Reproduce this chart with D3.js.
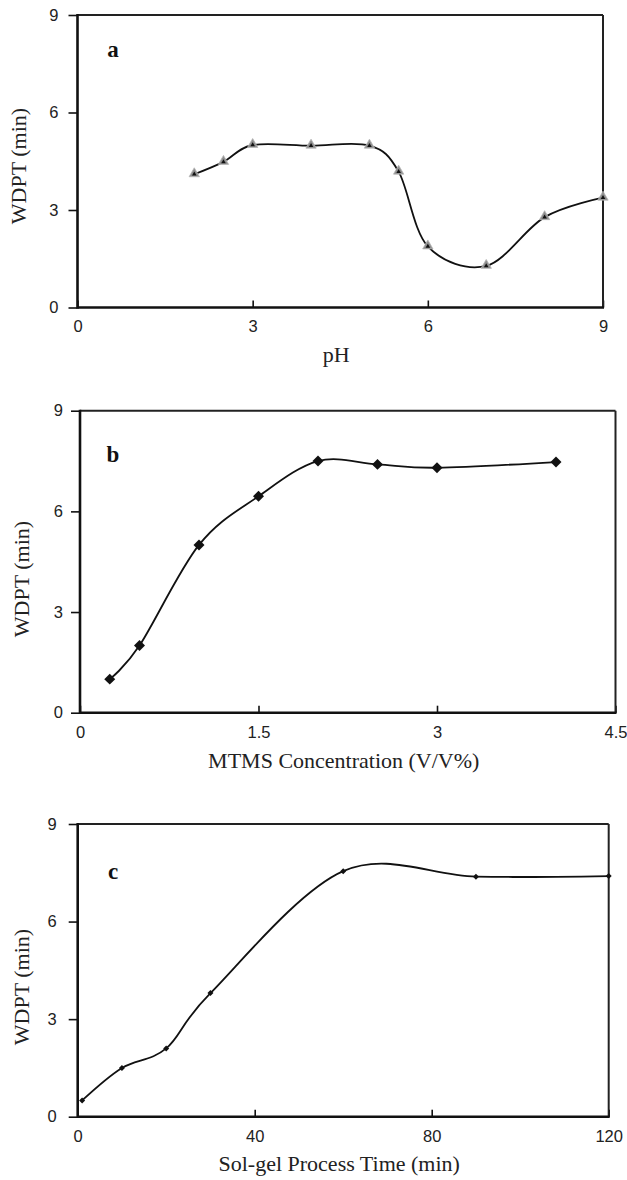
<!DOCTYPE html>
<html>
<head>
<meta charset="utf-8">
<script src="https://cdn.jsdelivr.net/npm/d3@7"></script>
<style>
  html, body { margin: 0; padding: 0; background: #fff; }
  svg { display: block; }
  .tick text { font-family: "Liberation Sans", Arial, Helvetica, sans-serif; font-size: 16.5px; fill: #222; }
  .axlab { font-family: "Liberation Serif", "Times New Roman", serif; font-size: 22px; fill: #222; }
  .plab { font-family: "Liberation Serif", "Times New Roman", serif; font-size: 23px; font-weight: bold; fill: #111; }
</style>
</head>
<body>
<svg id="chart" width="627" height="1180"></svg>
<script>
// ---- data ----
const yTicks = [0, 3, 6, 9];

const phX = [2, 2.5, 3, 4, 5, 5.5, 6, 7, 8, 9];
const phY = [4.1, 4.48, 5.0, 4.98, 4.98, 4.18, 1.88, 1.28, 2.78, 3.38];
const phTicks = [0, 3, 6, 9];

const mtmsX = [0.25, 0.5, 1, 1.5, 2, 2.5, 3, 4];
const mtmsY = [1.0, 2.0, 5.0, 6.45, 7.5, 7.4, 7.3, 7.47];
const mtmsTicks = [0, 1.5, 3, 4.5];

const timeX = [1, 10, 20, 30, 60, 90, 120];
const timeY = [0.5, 1.5, 2.1, 3.8, 7.55, 7.38, 7.4];
const timeTicks = [0, 40, 80, 120];

const yLabel = "WDPT (min)";
const xLabels = ["pH", "MTMS Concentration (V/V%)", "Sol-gel Process Time (min)"];
const panelLetters = ["a", "b", "c"];

// ---- layout (positions only) ----
const panels = [
  { xs: phX, ys: phY, xt: phTicks, xmax: 9, left: 77.5, right: 603, top: 15, bottom: 307.5,
    marker: "triangle", ylx: 18.5, yly: 166, xlb: 362, labGap: 10, letterY: 57, letterX: 113 },
  { xs: mtmsX, ys: mtmsY, xt: mtmsTicks, xmax: 4.5, left: 80, right: 615.5, top: 410.7, bottom: 712.7,
    marker: "bigdiamond", ylx: 21.5, yly: 579, xlb: 768, labGap: 8, letterY: 461.5, letterX: 113 },
  { xs: timeX, ys: timeY, xt: timeTicks, xmax: 120, left: 77.7, right: 608.7, top: 824, bottom: 1116.7,
    marker: "smalldiamond", ylx: 21.5, yly: 987, xlb: 1171, labGap: 12, letterY: 879, letterX: 113 }
];

const svg = d3.select("#chart");

panels.forEach((p, i) => {
  const x = d3.scaleLinear().domain([0, p.xmax]).range([p.left, p.right]);
  const y = d3.scaleLinear().domain([0, 9]).range([p.bottom, p.top]);
  const g = svg.append("g");

  // y axis
  const ya = g.append("g").attr("transform", `translate(${p.left},0)`)
    .call(d3.axisLeft(y).tickValues(yTicks).tickFormat(d3.format("~g")).tickSizeInner(9).tickSizeOuter(0).tickPadding(p.labGap));
  ya.select(".domain").remove();
  ya.selectAll(".tick line").attr("stroke", "#111").attr("stroke-width", 1.6);

  // x axis (ticks inward)
  const xa = g.append("g").attr("transform", `translate(0,${p.bottom})`)
    .call(d3.axisBottom(x).tickValues(p.xt).tickFormat(d3.format("~g")).tickSizeInner(-7).tickSizeOuter(0).tickPadding(13.2));
  xa.select(".domain").remove();
  xa.selectAll(".tick line").attr("stroke", "#111").attr("stroke-width", 1.6);

  // frame
  g.append("line").attr("x1", p.left).attr("x2", p.right).attr("y1", p.top).attr("y2", p.top)
    .attr("stroke", "#222").attr("stroke-width", 2);
  g.append("line").attr("x1", p.right).attr("x2", p.right).attr("y1", p.top).attr("y2", p.bottom)
    .attr("stroke", "#222").attr("stroke-width", 2);
  g.append("line").attr("x1", p.left).attr("x2", p.left).attr("y1", p.top - 1).attr("y2", p.bottom + 1.2)
    .attr("stroke", "#111").attr("stroke-width", 2.6);
  g.append("line").attr("x1", p.left).attr("x2", p.right + 1).attr("y1", p.bottom).attr("y2", p.bottom)
    .attr("stroke", "#111").attr("stroke-width", 2.6);

  // smoothed line
  const pts = p.xs.map((v, k) => [v, p.ys[k]]);
  const line = d3.line().x(d => x(d[0])).y(d => y(d[1])).curve(d3.curveCardinal.tension(0));
  g.append("path").attr("d", line(pts)).attr("fill", "none").attr("stroke", "#111").attr("stroke-width", 1.8);

  // markers
  const mg = g.append("g");
  pts.forEach(d => {
    const cx = x(d[0]), cy = y(d[1]);
    if (p.marker === "triangle") {
      mg.append("path").attr("transform", `translate(${cx},${cy - 0.5})`)
        .attr("d", d3.symbol().type(d3.symbolTriangle).size(46)()).attr("fill", "#8e8e8e").attr("stroke", "#b5b5b5").attr("stroke-width", 0.8);
      mg.append("path").attr("transform", `translate(${cx},${cy})`)
        .attr("d", d3.symbol().type(d3.symbolTriangle).size(9)()).attr("fill", "#111");
    } else if (p.marker === "bigdiamond") {
      mg.append("path").attr("transform", `translate(${cx},${cy}) rotate(45)`)
        .attr("d", d3.symbol().type(d3.symbolSquare).size(60)()).attr("fill", "#111");
    } else {
      mg.append("path").attr("transform", `translate(${cx},${cy}) rotate(45)`)
        .attr("d", d3.symbol().type(d3.symbolSquare).size(18)()).attr("fill", "#111");
    }
  });

  // panel letter
  g.append("text").attr("class", "plab").attr("x", p.letterX).attr("y", p.letterY)
    .attr("text-anchor", "middle").text(panelLetters[i]);

  // axis labels
  g.append("text").attr("class", "axlab").attr("x", (p.left + p.right) / 2 - 4).attr("y", p.xlb)
    .attr("text-anchor", "middle").text(xLabels[i]);
  g.append("text").attr("class", "axlab")
    .attr("transform", `translate(${p.ylx},${p.yly}) rotate(-90)`)
    .attr("text-anchor", "middle").attr("dy", "0.35em").text(yLabel);
});
</script>
</body>
</html>
